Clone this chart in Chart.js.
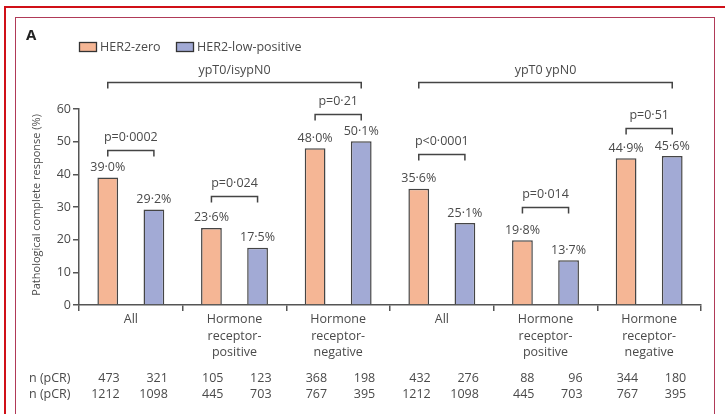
<!DOCTYPE html>
<html><head><meta charset="utf-8">
<script src="https://cdn.jsdelivr.net/npm/chart.js@4"></script>
<style>
html,body{margin:0;padding:0;background:#fff;overflow:hidden}
#wrap{position:relative;width:725px;height:414px;background:#fff}
canvas{position:absolute;left:0;top:0}
.ln{position:absolute;z-index:2}
</style></head><body>
<div id="wrap">
<canvas id="c" width="725" height="414"></canvas>
<div class="ln" style="left:4px;top:6px;width:721px;height:2px;background:#d01018"></div>
<div class="ln" style="left:4px;top:6px;width:2px;height:408px;background:#d01018"></div>
<div class="ln" style="left:15px;top:17px;width:700px;height:1px;background:#b03a58"></div>
<div class="ln" style="left:15px;top:17px;width:1px;height:397px;background:#b03a58"></div>
<div class="ln" style="left:714px;top:17px;width:1px;height:397px;background:#b03a58"></div>
</div>
<script>
const categories = [
  ['All'],
  ['Hormone','receptor-','positive'],
  ['Hormone','receptor-','negative'],
  ['All'],
  ['Hormone','receptor-','positive'],
  ['Hormone','receptor-','negative']
];
const seriesNames = ['HER2-zero', 'HER2-low-positive'];
const her2Zero = [39.0, 23.6, 48.0, 35.6, 19.8, 44.9];
const her2LowPositive = [29.2, 17.5, 50.1, 25.1, 13.7, 45.6];
const pValues = ['p=0·0002', 'p=0·024', 'p=0·21', 'p<0·0001', 'p=0·014', 'p=0·51'];
const bracketLevels = [47.4, 33.4, 58.4, 46.2, 29.9, 54.3];
const endpointLabels = ['ypT0/isypN0', 'ypT0 ypN0'];
const endpointGroups = [[0, 2], [3, 5]];
const endpointLevel = 68.3;
const nPcrZero = [473, 105, 368, 432, 88, 344];
const nPcrLow = [321, 123, 198, 276, 96, 180];
const nTotalZero = [1212, 445, 767, 1212, 445, 767];
const nTotalLow = [1098, 703, 395, 1098, 703, 395];
const rowLabels = ['n (pCR)', 'n (pCR)'];
const yMin = 0, yMax = 60, yStep = 10;
const panelLabel = 'A';
const yTitle = 'Pathological complete response (%)';

const ORANGE = '#f5b695', BLUE = '#a2aad5', EDGE = '#454545', TXT = '#4a4a4a', FONT = "'Open Sans', sans-serif";
const FS = 12.5;
const fmt = v => v.toFixed(1).replace('.', '·') + '%';

const overlay = {
  id: 'overlay',
  afterDraw(chart) {
    const ctx = chart.ctx, y = chart.scales.y;
    const m0 = chart.getDatasetMeta(0).data, m1 = chart.getDatasetMeta(1).data;
    ctx.save();
    ctx.fillStyle = TXT; ctx.strokeStyle = '#444'; ctx.lineWidth = 1.5;
    ctx.font = FS + 'px ' + FONT;
    ctx.textAlign = 'center'; ctx.textBaseline = 'middle';
    // value labels
    [m0, m1].forEach((m, d) => m.forEach((b, i) => {
      const v = d === 0 ? her2Zero[i] : her2LowPositive[i];
      ctx.fillText(fmt(v), b.x, b.y - 10);
    }));
    // p brackets
    m0.forEach((b, i) => {
      const x1 = b.x, x2 = m1[i].x, yy = Math.round(y.getPixelForValue(bracketLevels[i])) + 0.5;
      ctx.beginPath(); ctx.moveTo(x1, yy + 6); ctx.lineTo(x1, yy); ctx.lineTo(x2, yy); ctx.lineTo(x2, yy + 6); ctx.stroke();
      ctx.fillText(pValues[i], (x1 + x2) / 2, yy - 13);
    });
    // endpoint brackets
    endpointGroups.forEach((g, k) => {
      const x1 = m0[g[0]].x, x2 = m1[g[1]].x, yy = Math.round(y.getPixelForValue(endpointLevel)) + 0.5;
      ctx.beginPath(); ctx.moveTo(x1, yy + 6); ctx.lineTo(x1, yy); ctx.lineTo(x2, yy); ctx.lineTo(x2, yy + 6); ctx.stroke();
      ctx.fillText(endpointLabels[k], (x1 + x2) / 2, yy - 12);
    });
    // n rows
    const rows = [[nPcrZero, nPcrLow], [nTotalZero, nTotalLow]];
    const rowY = [378, 394];
    rows.forEach((r, ri) => {
      ctx.textAlign = 'left';
      ctx.fillText(rowLabels[ri], 29, rowY[ri]);
      ctx.textAlign = 'right';
      m0.forEach((b, i) => {
        ctx.fillText(String(r[0][i]), b.x + 12, rowY[ri]);
        ctx.fillText(String(r[1][i]), m1[i].x + 14, rowY[ri]);
      });
    });
    // legend
    ctx.textAlign = 'left';
    const leg = [[79, ORANGE], [176, BLUE]];
    ctx.lineWidth = 1.3;
    leg.forEach((l, k) => {
      ctx.fillStyle = l[1]; ctx.fillRect(l[0], 42.5, 17, 9);
      ctx.strokeStyle = '#333'; ctx.strokeRect(l[0] + 0.5, 42.5, 17, 9);
      ctx.fillStyle = TXT; ctx.fillText(seriesNames[k], l[0] + 21, 47);
    });
    // panel label
    ctx.fillStyle = '#222'; ctx.font = 'bold 15px ' + FONT;
    ctx.fillText(panelLabel, 26, 36);
    // y title
    ctx.fillStyle = TXT; ctx.font = '11px ' + FONT;
    ctx.translate(37, 205); ctx.rotate(-Math.PI / 2);
    ctx.textAlign = 'center'; ctx.fillText(yTitle, 0, 0);
    ctx.restore();
  }
};

new Chart(document.getElementById('c'), {
  type: 'bar',
  data: {
    labels: categories,
    datasets: [
      { label: seriesNames[0], data: her2Zero, backgroundColor: ORANGE, borderColor: EDGE, borderWidth: 1.5 },
      { label: seriesNames[1], data: her2LowPositive, backgroundColor: BLUE, borderColor: EDGE, borderWidth: 1.5 }
    ]
  },
  options: {
    responsive: false, animation: false, devicePixelRatio: 1,
    layout: { padding: { left: 0, top: 109, right: 24, bottom: 0 } },
    datasets: { bar: { categoryPercentage: 0.89, barPercentage: 0.45 } },
    plugins: { legend: { display: false }, tooltip: { enabled: false } },
    scales: {
      x: {
        afterFit: s => { s.height = 109; },
        grid: { drawOnChartArea: false, offset: true, tickLength: 6, color: '#555', lineWidth: 1.5 },
        border: { color: '#555', width: 1.5 },
        ticks: { color: TXT, font: { family: FONT, size: FS, lineHeight: 1.34 }, padding: 0, maxRotation: 0, autoSkip: false }
      },
      y: {
        min: yMin, max: yMax,
        afterFit: s => { s.width = 79; },
        grid: { drawOnChartArea: false, tickLength: 6, color: '#555', lineWidth: 1.5 },
        border: { color: '#555', width: 1.5 },
        ticks: { stepSize: yStep, color: TXT, font: { family: FONT, size: FS }, padding: 2 }
      }
    }
  },
  plugins: [overlay]
});
</script>
</body></html>
